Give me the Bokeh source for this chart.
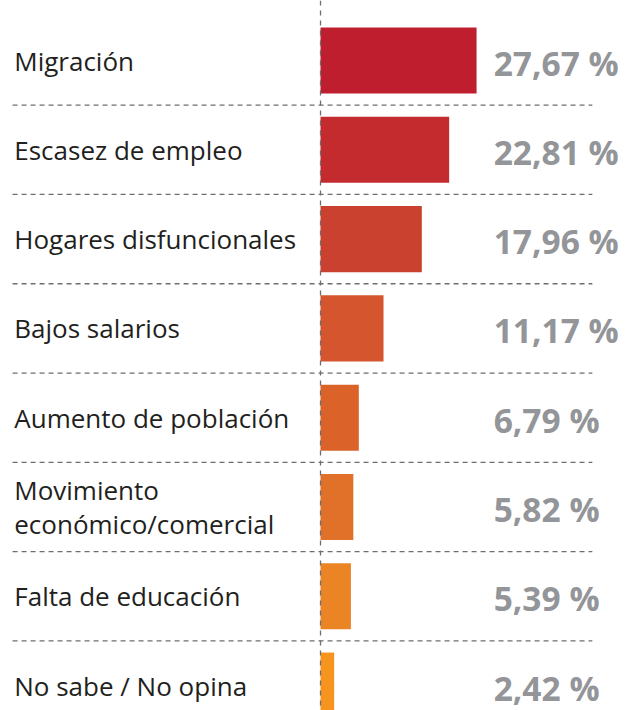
from bokeh.plotting import figure
from bokeh.models import Range1d, Span, ColumnDataSource
from bokeh.core.properties import value
from bokeh.embed import file_html
from bokeh.resources import INLINE

categories = ["Migración", "Escasez de empleo", "Hogares disfuncionales", "Bajos salarios",
              "Aumento de población", "Movimiento\neconómico/comercial",
              "Falta de educación", "No sabe / No opina"]
values = [27.67, 22.81, 17.96, 11.17, 6.79, 5.82, 5.39, 2.42]
value_labels = ["27,67 %", "22,81 %", "17,96 %", "11,17 %", "6,79 %", "5,82 %", "5,39 %", "2,42 %"]
colors = ["#BE1E2D", "#C42B2E", "#CB4130", "#D4552E", "#DB632A", "#E17028", "#EB8425", "#F7941D"]

n = len(categories)
rows = list(range(n))

LABEL_X = -54.3
VALUE_X = 30.7
SEP_X0, SEP_X1 = -54.6, 48.2

p = figure(width=627, height=710, output_backend="svg", toolbar_location=None,
           x_range=Range1d(-56.74, 54.43), y_range=Range1d(7.279, -0.672),
           min_border=0, outline_line_color=None)
p.axis.visible = False
p.grid.visible = False
p.background_fill_color = "white"

src = ColumnDataSource(dict(y=rows, v=values, c=colors, cat=categories, vl=value_labels,
                            lx=[LABEL_X] * n, vx=[VALUE_X] * n))

p.hbar(y="y", left=0, right="v", height=0.74, fill_color="c", line_color=None, source=src)

sep_y = [r + 0.5 for r in rows[:-1]]
p.segment(x0=[SEP_X0] * len(sep_y), x1=[SEP_X1] * len(sep_y), y0=sep_y, y1=sep_y,
          line_color="#6D6E71", line_width=1.3, line_dash="5 4")

p.text(x="lx", y="y", text="cat", source=src, text_font=value("Open Sans"),
       text_font_size="26px", text_color="#231F20", text_baseline="middle",
       text_align="left", text_line_height=0.95)
p.text(x="vx", y="y", text="vl", source=src, text_font=value("Open Sans"),
       text_font_size="33.5px", text_font_style="bold", text_color="#939598",
       text_baseline="middle", text_align="left", y_offset=2)

p.add_layout(Span(location=0, dimension="height", line_color="#6D6E71",
                  line_width=1.3, line_dash="5 5"))

open("out.html", "w").write(file_html(p, INLINE))
